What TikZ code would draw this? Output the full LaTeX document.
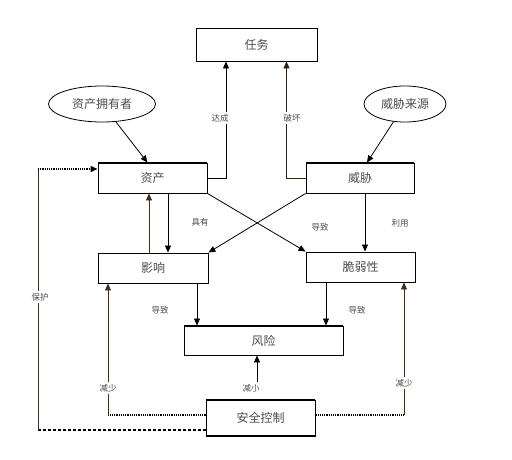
\documentclass[tikz,border=0pt]{standalone}
\usepackage{fontspec}
\newfontfamily\cjk{Noto Sans CJK SC}
\usetikzlibrary{arrows.meta,shapes.geometric}
\begin{document}
\begin{tikzpicture}[x=1pt,y=-1pt,
  box/.style={draw=black, line width=0.9pt, rectangle, fill=white, font=\cjk\fontsize{12}{14}\selectfont, text=black!70},
  oval/.style={draw=black, line width=0.8pt, ellipse, inner sep=0pt, font=\cjk\fontsize{12}{14}\selectfont, text=black!70},
  lab/.style={fill=white, inner sep=2pt, font=\cjk\fontsize{8.5}{10}\selectfont, text=black!70},
  arr/.style={-{Triangle[length=7pt,width=6pt]}, line width=0.8pt},
  dot/.style={line width=1.2pt, densely dotted},
  dsh/.style={line width=1.2pt, densely dashed}]
\useasboundingbox (0,0) rectangle (512,460);
% nodes
\node[box, minimum width=121pt, minimum height=33pt] (task) at (256.5,44.5) {任务};
\node[oval, minimum width=107pt, minimum height=36pt] (owner) at (102,104) {资产拥有者};
\node[oval, minimum width=82pt, minimum height=36pt] (tsrc) at (405,104) {威胁来源};
\node[box, minimum width=109pt, minimum height=30pt] (asset) at (152.5,178) {资产};
\node[box, minimum width=108pt, minimum height=30pt] (threat) at (360,178) {威胁};
\node[box, minimum width=110pt, minimum height=30pt] (impact) at (153,268) {影响};
\node[box, minimum width=109pt, minimum height=30pt] (vuln) at (360.5,267) {脆弱性};
\node[box, minimum width=159pt, minimum height=29pt] (risk) at (263.5,340.5) {风险};
\node[box, minimum width=109pt, minimum height=36pt] (ctrl) at (260.5,418) {安全控制};
% thick edges
\draw[line width=2pt] (asset.north west) -- (asset.north east);
\draw[line width=2pt] (threat.north west) -- (threat.north east);
\draw[line width=2pt] (risk.north west) -- (risk.north east);
\draw[line width=2pt] (ctrl.north west) -- (ctrl.north east);
\draw[line width=2pt] (ctrl.south west) -- (ctrl.south east);
% coordinates
\coordinate (l1) at (108,415);
\coordinate (p1) at (38,430);
\coordinate (p2) at (38,169);
\coordinate (r1) at (404,415);
% connectors to task
\draw[arr] (asset.east) -| ([xshift=-30.5pt]task.south);
\draw[arr, draw=black!75!brown] (threat.west) -| ([xshift=30pt]task.south);
\node[lab] at (220,118) {达成};
\node[lab] at (292,118) {破坏};
% ellipses
\draw[arr] (owner) -- ([xshift=-5pt]asset.north);
\draw[arr] (tsrc) -- ([xshift=7pt]threat.north);
% asset <-> impact
\draw[arr] ([xshift=15.5pt]asset.south) -- ([xshift=15.5pt]asset.south |- impact.north);
\draw[arr, draw=black!65!brown] ([xshift=-4pt]impact.north) -- ([xshift=-4pt]impact.north |- asset.south);
\node[lab] at (200,222) {具有};
% cross
\draw[arr] (asset.south east) -- (vuln.north west);
\draw[arr] (threat.south west) -- (impact.north east);
\node[lab] at (320,227) {导致};
\draw[arr] ([xshift=5pt]threat.south) -- ([xshift=5pt]threat.south |- vuln.north);
\node[lab] at (400,223) {利用};
% to risk
\draw[arr] ([xshift=44pt]impact.south) -- ([xshift=44pt]impact.south |- risk.north);
\node[lab] at (160,310) {导致};
\draw[arr] ([xshift=-34.5pt]vuln.south) -- ([xshift=-34.5pt]vuln.south |- risk.north);
\node[lab] at (357,310) {导致};
\draw[arr, shorten <=6pt] ([xshift=-3.5pt]ctrl.north) -- ([xshift=-3.5pt]ctrl.north |- risk.south);
\node[lab] at (251,388) {减小};
% control loops
\draw[dot] (ctrl.west |- l1) -- (l1);
\draw[arr, draw=black!65!brown] (l1) -- (impact.south -| l1);
\node[lab] at (108,388) {减少};
\draw[dsh] (ctrl.west |- p1) -- (p1);
\draw[line width=0.8pt, draw=black!65!brown] (p1) -- (p2);
\draw[dot, -{Triangle[length=7pt,width=6pt]}] (p2) -- (asset.west |- p2);
\node[lab] at (40,297) {保护};
\draw[dot] (ctrl.east |- r1) -- (r1);
\draw[arr, draw=black!65!brown] (r1) -- (vuln.south -| r1);
\node[lab] at (404,383) {减少};
\end{tikzpicture}
\end{document}
